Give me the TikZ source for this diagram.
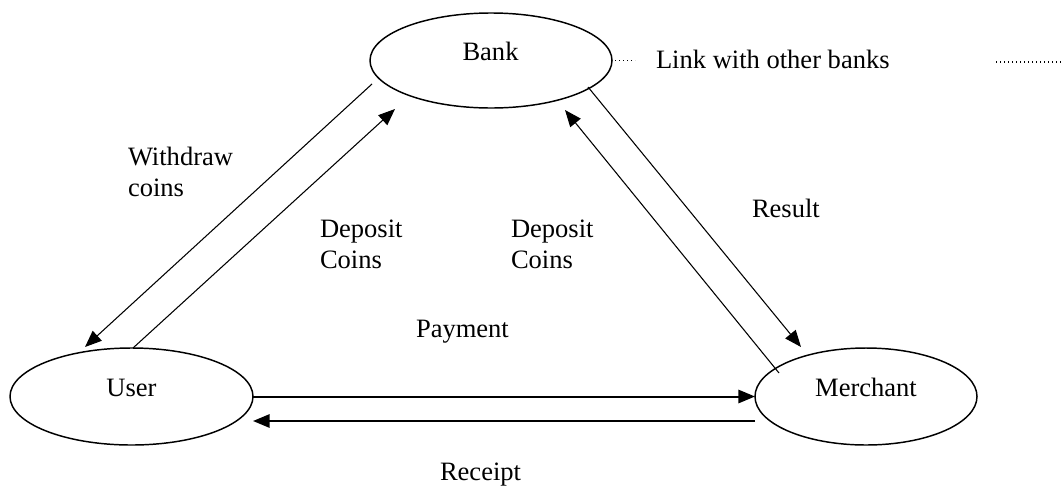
\documentclass[tikz,border=0pt]{standalone}
\usepackage{fontspec}
\setmainfont{Liberation Serif}
\usetikzlibrary{shapes.geometric,arrows.meta}
\begin{document}
\begin{tikzpicture}[x=0.75pt,y=-0.75pt,
  every node/.style={font=\fontsize{19.9}{23.25}\selectfont},
  oval/.style={draw,ellipse,line width=1.1pt,inner sep=0pt,outer sep=0pt},
  lbl/.style={inner sep=0pt,outer sep=0pt,align=left},
  diag/.style={line width=0.8pt},
  horiz/.style={line width=1.5pt},
  tip/.style={-{Triangle[length=12.5pt,width=10pt]}},
  dots/.style={line width=0.8pt,dash pattern=on 0.8pt off 2.2pt}]
\useasboundingbox (0,0) rectangle (1062,486);
% ellipses
\node[oval,minimum width=181.5pt,minimum height=71.25pt] (bank) at (491,60.5) {};
\node[oval,minimum width=182.25pt,minimum height=72.75pt] (user) at (131.5,396.5) {};
\node[oval,minimum width=166.5pt,minimum height=72.75pt] (merchant) at (866,396.5) {};
% ellipse texts
\node[lbl,anchor=base] (bankt) at (490.5,60) {Bank};
\node[lbl,anchor=base] (usert) at (131.5,396) {User};
\node[lbl,anchor=base] (mercht) at (866,396) {Merchant};
% other texts
\node[lbl,anchor=base west] (linkt) at (656,68) {Link with other banks};
\node[lbl,anchor=north west] (withdrawt) at (128,147) {Withdraw\\coins};
\node[lbl,anchor=north west] (depleft) at (320,220) {Deposit\\Coins};
\node[lbl,anchor=north west] (depright) at (511,220) {Deposit\\Coins};
\node[lbl,anchor=base west] (resultt) at (752,217) {Result};
\node[lbl,anchor=base west] (paymentt) at (416,337) {Payment};
\node[lbl,anchor=base west] (receiptt) at (440,480) {Receipt};
% dotted links
\draw[dots] ([shift={(3,0)}]bank.east) -- ([shift={(23,0)}]bank.east);
\coordinate (d1) at (996,62);
\coordinate (d2) at (1062,62);
\draw[dots] (d1) -- (d2);
% diagonal connectors
\draw[diag,tip] ([shift={(-119,23.5)}]bank.center) -- ([shift={(-46.5,-49.5)}]user.center);
\draw[diag,tip] ([shift={(1.5,-48.5)}]user.center) -- ([shift={(-96,48.5)}]bank.center);
\draw[diag,tip] ([shift={(-87,-23.5)}]merchant.center) -- ([shift={(74,49.5)}]bank.center);
\draw[diag,tip] ([shift={(97,26.5)}]bank.center) -- ([shift={(-65,-49.5)}]merchant.center);
% horizontal connectors
\draw[horiz,tip] (user.east) -- (merchant.west);
\draw[horiz,tip] ([shift={(0,24.5)}]merchant.west) -- ([shift={(121.5,24.5)}]user.center);
\end{tikzpicture}
\end{document}
